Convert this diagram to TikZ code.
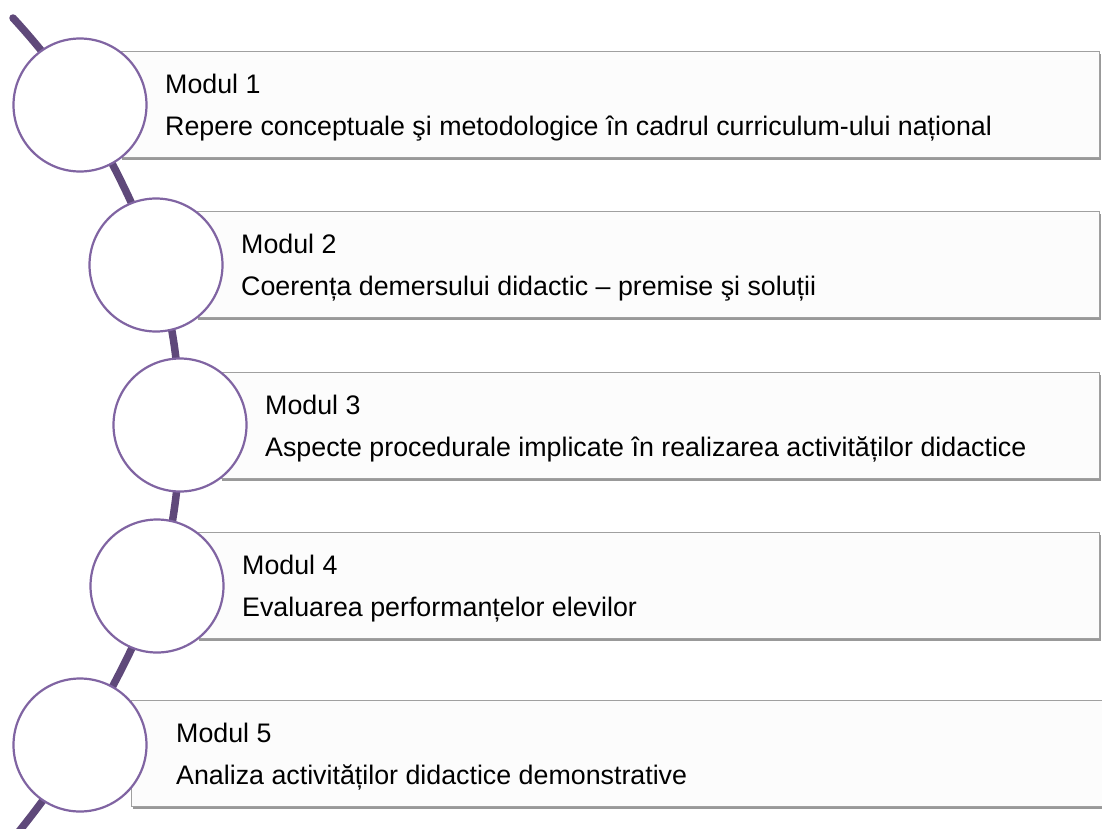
\documentclass[tikz,border=0pt]{standalone}
\usepackage{fontspec}
\setmainfont{Liberation Sans}
\usetikzlibrary{positioning, calc, shadows}
\definecolor{trackpurple}{HTML}{5F497A}
\definecolor{ringpurple}{HTML}{8064A2}
\definecolor{boxgray}{HTML}{A0A0A0}

\begin{document}
\begin{tikzpicture}[
  x=1pt, y=-1pt,
  ring/.style={circle, draw=ringpurple, line width=2.2pt, fill=white, minimum size=133pt, inner sep=0pt},
  modbox/.style={rectangle, draw=boxgray, line width=1pt, fill=black!1, minimum height=106pt,
    anchor=north west, inner sep=0pt,
    drop shadow={shadow xshift=1.5pt, shadow yshift=-2.5pt, opacity=0.4, fill=black}},
  modtext/.style={anchor=base west, inner sep=0pt, font=\fontsize{26.8}{32}\selectfont},
  track/.style={draw=trackpurple, line width=7.5pt, line cap=round},
]
\clip (0,0) rectangle (1102,828);

% ring centres along the track
\coordinate (top) at (13,18);
\coordinate (p1) at (80,105);
\coordinate (p2) at (156,265);
\coordinate (p3) at (180,425);
\coordinate (p4) at (157,586);
\coordinate (p5) at (80,745);
\coordinate (bottom) at (12,840);

% module boxes
\node[modbox, minimum width=979pt] (b1) at (120,51) {};
\node[modbox, minimum width=903pt] (b2) at (196,211) {};
\node[modbox, minimum width=879pt] (b3) at (220,372) {};
\node[modbox, minimum width=902pt] (b4) at (197,532) {};
\node[modbox, minimum width=975pt] (b5) at (131,700) {};

% track
\draw[track] plot[smooth, tension=0.6] coordinates {(top) (p1) (p2) (p3) (p4) (p5) (bottom)};

% rings
\node[ring] (c1) at (p1) {};
\node[ring] (c2) at (p2) {};
\node[ring] (c3) at (p3) {};
\node[ring] (c4) at (p4) {};
\node[ring] (c5) at (p5) {};

% texts
\node[modtext] (m1) at ($(b1.north west)+(45,42)$) {Modul 1};
\node[modtext] (d1) at ($(b1.north west)+(45,84)$) {Repere conceptuale şi metodologice în cadrul curriculum-ului național};
\node[modtext] (m2) at ($(b2.north west)+(45,42)$) {Modul 2};
\node[modtext] (d2) at ($(b2.north west)+(45,84)$) {Coerența demersului didactic – premise şi soluții};
\node[modtext] (m3) at ($(b3.north west)+(45,42)$) {Modul 3};
\node[modtext] (d3) at ($(b3.north west)+(45,84)$) {Aspecte procedurale implicate în realizarea activităților didactice};
\node[modtext] (m4) at ($(b4.north west)+(45,42)$) {Modul 4};
\node[modtext] (d4) at ($(b4.north west)+(45,84)$) {Evaluarea performanțelor elevilor};
\node[modtext] (m5) at ($(b5.north west)+(45,42)$) {Modul 5};
\node[modtext] (d5) at ($(b5.north west)+(45,84)$) {Analiza activităților didactice demonstrative};
\end{tikzpicture}
\end{document}
